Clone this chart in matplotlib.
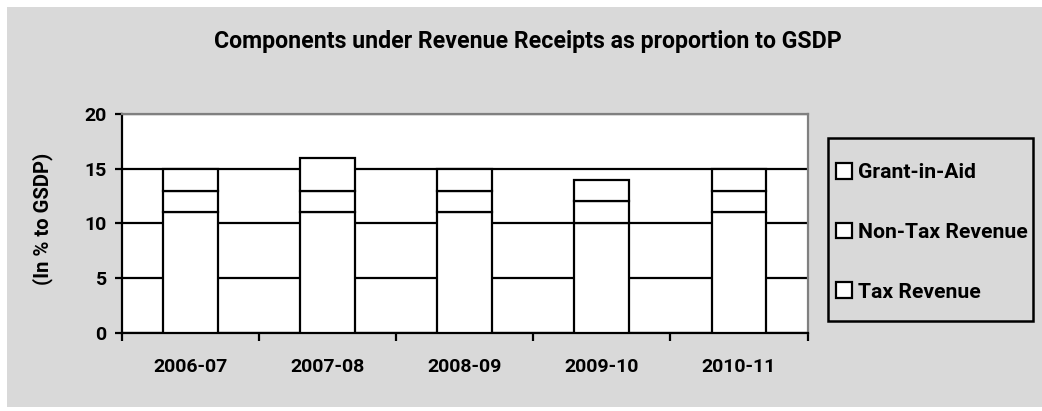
import numpy as np
import matplotlib
matplotlib.use('Agg')
import matplotlib.pyplot as plt
from matplotlib.patches import Rectangle

# Revenue receipts components (% of GSDP)
years = ['2006-07', '2007-08', '2008-09', '2009-10', '2010-11']
tax_revenue = [11, 11, 11, 10, 11]
non_tax_revenue = [2, 2, 2, 2, 2]
grant_in_aid = [2, 3, 2, 2, 2]

narrow = ['Roboto', 'DejaVu Sans']

fig = plt.figure(figsize=(10.42, 4.11), dpi=100)
fig.patch.set_facecolor('white')
# grey chart area
fig.patches.append(Rectangle((7 / 1042, 4 / 411), 1 - 7 / 1042, 1 - 11 / 411,
                             transform=fig.transFigure, facecolor='#d9d9d9',
                             edgecolor='none', zorder=-10))

ax = fig.add_axes([0.117, 0.190, 0.658, 0.533])
ax.set_facecolor('white')

x = np.arange(len(years))
width = 0.4
bar_kw = dict(width=width, color='white', edgecolor='black', linewidth=1.6, zorder=3)
b1 = ax.bar(x, tax_revenue, label='Tax Revenue', **bar_kw)
b2 = ax.bar(x, non_tax_revenue, bottom=tax_revenue, label='Non-Tax Revenue', **bar_kw)
bottom2 = np.array(tax_revenue) + np.array(non_tax_revenue)
b3 = ax.bar(x, grant_in_aid, bottom=bottom2, label='Grant-in-Aid', **bar_kw)

ax.set_ylim(0, 20)
ax.set_xlim(-0.5, len(years) - 0.5)
ax.set_yticks([0, 5, 10, 15, 20])
ax.yaxis.grid(True, color='black', linewidth=1.6, zorder=1)
ax.set_axisbelow(True)

ax.set_xticks(x)
ax.set_xticklabels(years, family=narrow, fontweight='bold', fontsize=14)
ax.set_xticks(np.arange(-0.5, len(years)), minor=True)
ax.tick_params(axis='x', which='major', length=0, pad=18)
ax.tick_params(axis='x', which='minor', length=6, width=1.6, direction='out')
ax.tick_params(axis='y', length=5, width=1.6, direction='out', pad=6)
for lab in ax.get_yticklabels():
    lab.set_family(narrow)
    lab.set_fontweight('bold')
    lab.set_fontsize(14)

for side in ['left', 'bottom']:
    ax.spines[side].set_color('black')
    ax.spines[side].set_linewidth(1.6)
for side in ['top', 'right']:
    ax.spines[side].set_color('#808080')
    ax.spines[side].set_linewidth(1.6)

ax.set_ylabel('(In % to GSDP)', family=narrow, fontweight='bold', fontsize=14.6)
ax.yaxis.set_label_coords(-0.10, 0.52)

fig.text(0.507, 0.90, 'Components under Revenue Receipts as proportion to GSDP',
         ha='center', va='center', family=narrow, fontweight='bold', fontsize=16.7)

# legend box drawn by hand, entries placed inside it
fig.patches.append(Rectangle((828 / 1042, 1 - 321 / 411), 205 / 1042, 183 / 411,
                             transform=fig.transFigure, facecolor='#d9d9d9',
                             edgecolor='black', linewidth=1.8, zorder=2))
leg = fig.legend([b3, b2, b1], ['Grant-in-Aid', 'Non-Tax Revenue', 'Tax Revenue'],
                 loc='upper left', bbox_to_anchor=(832 / 1042, 1 - 159 / 411),
                 frameon=False, prop={'family': narrow, 'weight': 'bold', 'size': 15.2},
                 labelspacing=1.92, handlelength=0.75, handleheight=0.75, handletextpad=0.3,
                 borderpad=0.2, borderaxespad=0)

fig.savefig('out.png', dpi=100, facecolor=fig.get_facecolor())
